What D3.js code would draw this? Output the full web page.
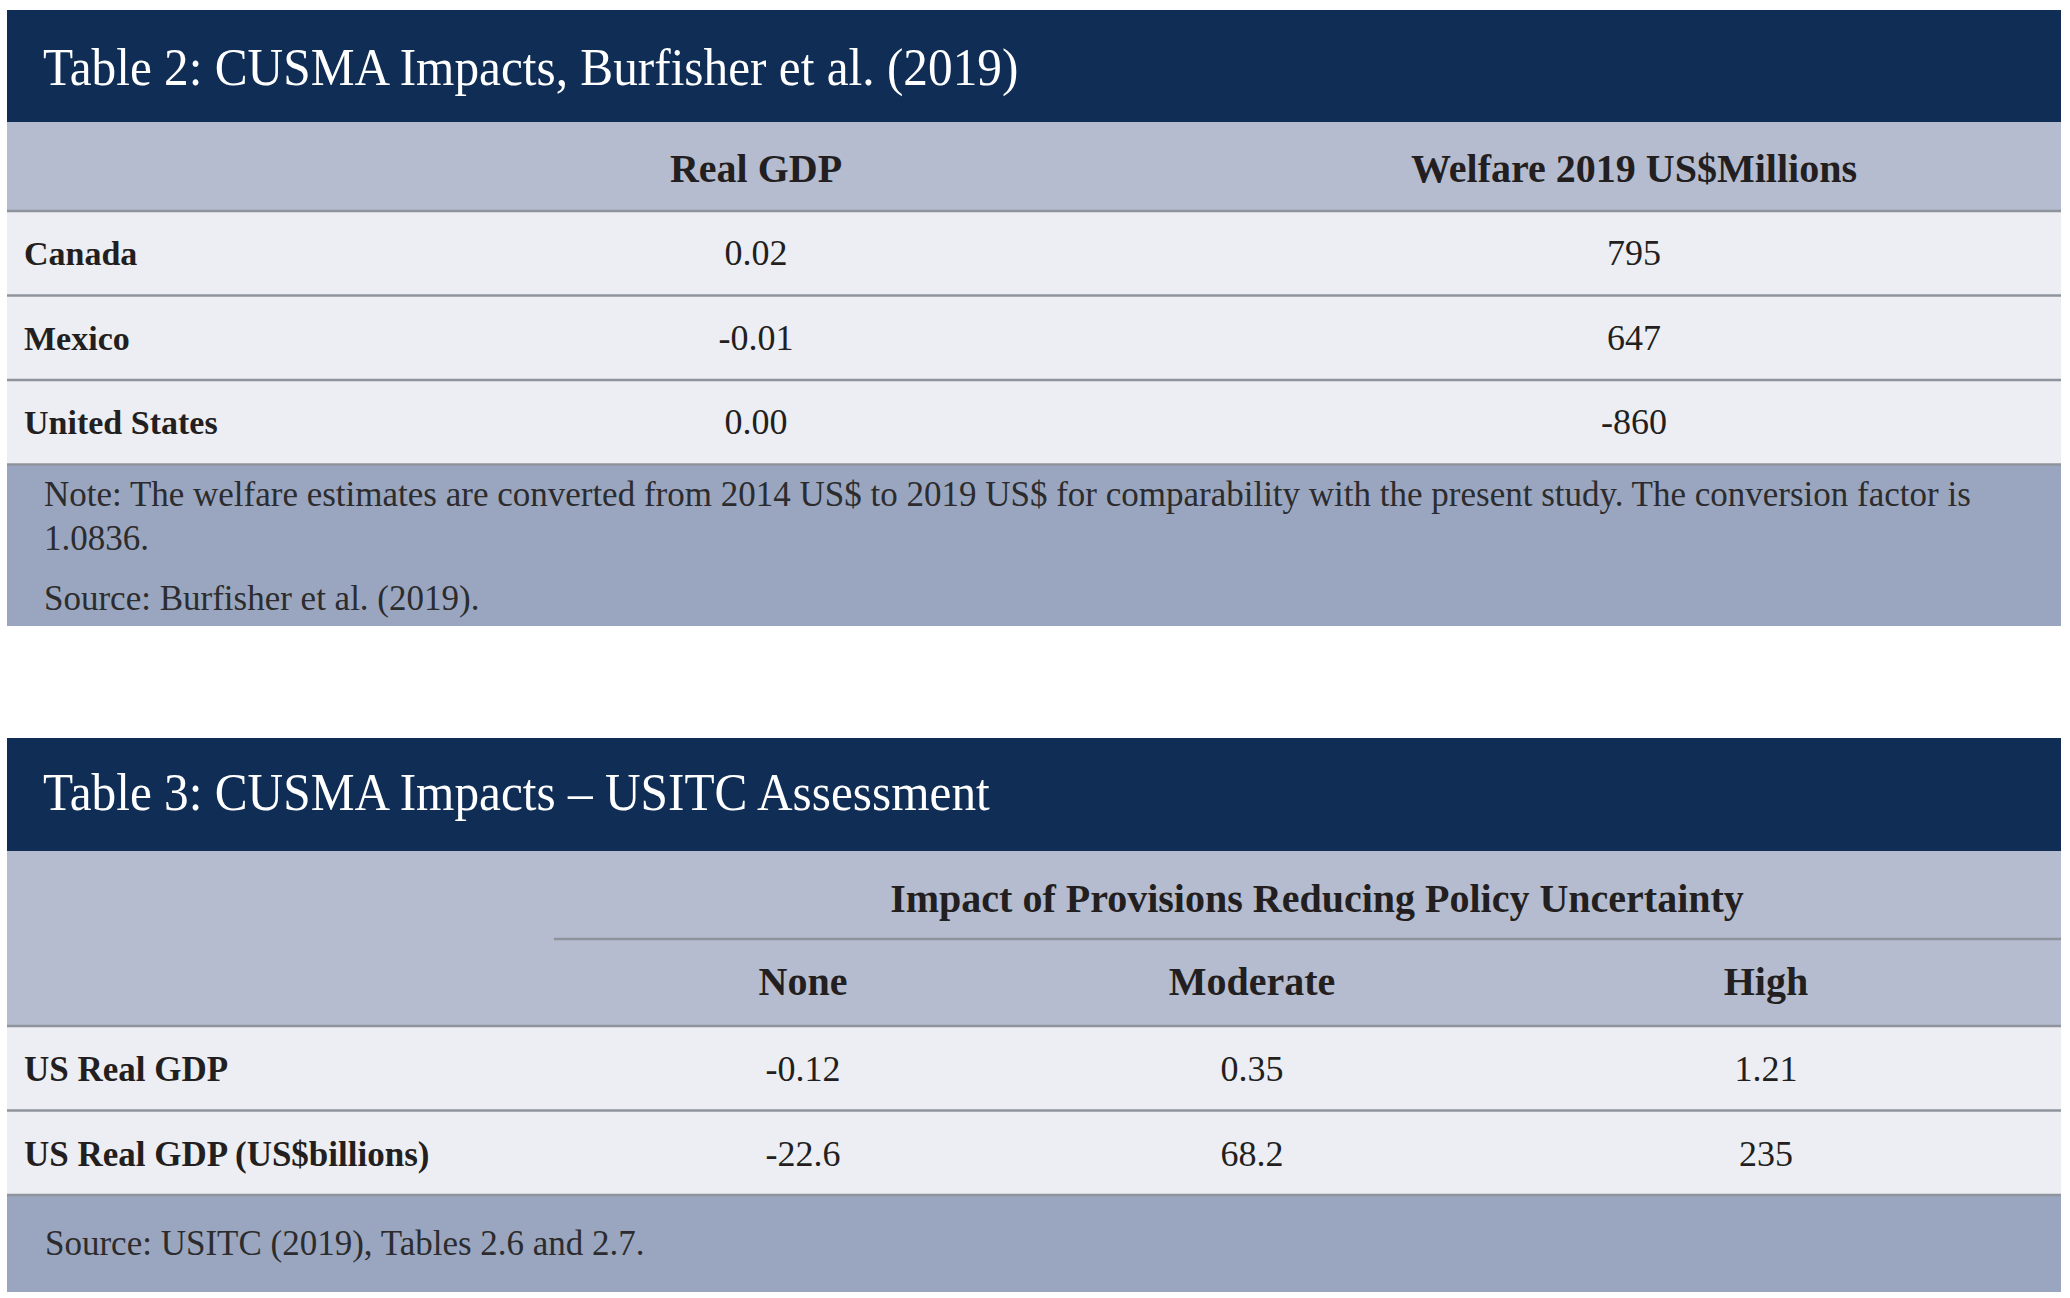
<!DOCTYPE html>
<html>
<head>
<meta charset="utf-8">
<script src="https://cdn.jsdelivr.net/npm/d3@7"></script>
<style>
  body { margin: 0; background: #fff; }
  svg text { font-family: "Liberation Serif", "Times New Roman", serif; }
</style>
</head>
<body>
<div id="chart"></div>
<script>
// ---- data: Table 2 ----
const t2Title = "Table 2: CUSMA Impacts, Burfisher et al. (2019)";
const t2Columns = ["Real GDP", "Welfare 2019 US$Millions"];
const t2Rows = ["Canada", "Mexico", "United States"];
const t2RealGdp = ["0.02", "-0.01", "0.00"];
const t2Welfare = ["795", "647", "-860"];
const t2Notes = [
  "Note: The welfare estimates are converted from 2014 US$ to 2019 US$ for comparability with the present study. The conversion factor is",
  "1.0836.",
  "Source: Burfisher et al. (2019)."
];

// ---- data: Table 3 ----
const t3Title = "Table 3: CUSMA Impacts \u2013 USITC Assessment";
const t3Span = "Impact of Provisions Reducing Policy Uncertainty";
const t3Columns = ["None", "Moderate", "High"];
const t3Rows = ["US Real GDP", "US Real GDP (US$billions)"];
const t3None = ["-0.12", "-22.6"];
const t3Moderate = ["0.35", "68.2"];
const t3High = ["1.21", "235"];
const t3Notes = ["Source: USITC (2019), Tables 2.6 and 2.7."];

const colors = {
  title: "#0f2d55",
  header: "#b5bccf",
  body: "#edeef3",
  note: "#9aa6bf",
  rule: "#8f949c",
  text: "#231f20"
};

const W = 2070, H = 1298;
const left = 7, right = 2061;

const svg = d3.select("#chart").append("svg")
  .attr("width", W)
  .attr("height", H);

// squeeze Times-ish glyphs a bit towards the narrower Garamond of the original
function condense(sel, k) {
  sel.each(function() {
    const len = this.getComputedTextLength();
    d3.select(this).attr("textLength", len * k).attr("lengthAdjust", "spacingAndGlyphs");
  });
}

function band(g, y0, y1, fill) {
  g.append("rect")
    .attr("x", left).attr("y", y0)
    .attr("width", right - left).attr("height", y1 - y0)
    .attr("fill", fill);
}

function rule(g, x0, y) {
  g.append("line")
    .attr("x1", x0).attr("x2", right)
    .attr("y1", y).attr("y2", y)
    .attr("stroke", colors.rule)
    .attr("stroke-width", 2.5);
}

function titleText(g, txt, y) {
  g.append("text")
    .attr("x", 43).attr("y", y)
    .attr("fill", "#fff")
    .style("font-size", "53px")
    .text(txt)
    .call(condense, 0.93);
}

// ================= Table 2 =================
const t2 = svg.append("g").attr("class", "table2");
const t2Top = 10, t2HeadTop = 122, t2HeadBottom = 211, t2RowH = 84.5;

const t2y = d3.scaleBand()
  .domain(t2Rows)
  .range([t2HeadBottom, t2HeadBottom + t2RowH * t2Rows.length]);

const t2x = d3.scaleOrdinal()
  .domain(t2Columns)
  .range([756, 1634]);

band(t2, t2Top, t2HeadTop, colors.title);
band(t2, t2HeadTop, t2HeadBottom, colors.header);
band(t2, t2HeadBottom, t2y.range()[1], colors.body);
const t2NoteTop = t2y.range()[1];
band(t2, t2NoteTop, 626, colors.note);

titleText(t2, t2Title, 85);

t2.selectAll(".col-head")
  .data(t2Columns)
  .join("text")
    .attr("class", "col-head")
    .attr("x", d => t2x(d))
    .attr("y", 182)
    .attr("text-anchor", "middle")
    .attr("fill", colors.text)
    .style("font-size", "40px")
    .style("font-weight", "bold")
    .text(d => d);

rule(t2, left, t2HeadBottom);
t2Rows.forEach(r => rule(t2, left, t2y(r) + t2y.bandwidth()));

const t2Data = t2Rows.map((r, i) => ({row: r, vals: [t2RealGdp[i], t2Welfare[i]]}));

const t2Row = t2.selectAll(".row")
  .data(t2Data)
  .join("g")
    .attr("class", "row")
    .attr("transform", d => `translate(0,${t2y(d.row) + 54})`);

t2Row.append("text")
    .attr("x", 24)
    .attr("fill", colors.text)
    .style("font-size", "34px")
    .style("font-weight", "bold")
    .text(d => d.row);

t2Row.selectAll(".val")
  .data(d => d.vals.map((v, j) => ({col: t2Columns[j], v})))
  .join("text")
    .attr("class", "val")
    .attr("x", d => t2x(d.col))
    .attr("text-anchor", "middle")
    .attr("fill", colors.text)
    .style("font-size", "36px")
    .text(d => d.v);

t2.selectAll(".note")
  .data(t2Notes)
  .join("text")
    .attr("class", "note")
    .attr("x", 44)
    .attr("y", (d, i) => [506, 550, 610][i])
    .attr("fill", "#2c2c2e")
    .style("font-size", "35px")
    .text(d => d);

// ================= Table 3 =================
const t3 = svg.append("g").attr("class", "table3");
const t3Top = 738, t3HeadTop = 851, t3SpanLine = 939, t3HeadBottom = 1026, t3RowH = 84.5;

const t3y = d3.scaleBand()
  .domain(t3Rows)
  .range([t3HeadBottom, t3HeadBottom + t3RowH * t3Rows.length]);

const t3x = d3.scaleOrdinal()
  .domain(t3Columns)
  .range([803, 1252, 1766]);

band(t3, t3Top, t3HeadTop, colors.title);
band(t3, t3HeadTop, t3HeadBottom, colors.header);
band(t3, t3HeadBottom, t3y.range()[1], colors.body);
band(t3, t3y.range()[1], 1292, colors.note);

titleText(t3, t3Title, 810);

t3.append("text")
  .attr("x", 1317).attr("y", 912)
  .attr("text-anchor", "middle")
  .attr("fill", colors.text)
  .style("font-size", "40px")
  .style("font-weight", "bold")
  .text(t3Span);

rule(t3, 554, t3SpanLine);

t3.selectAll(".col-head")
  .data(t3Columns)
  .join("text")
    .attr("class", "col-head")
    .attr("x", d => t3x(d))
    .attr("y", 995)
    .attr("text-anchor", "middle")
    .attr("fill", colors.text)
    .style("font-size", "40px")
    .style("font-weight", "bold")
    .text(d => d);

rule(t3, left, t3HeadBottom);
t3Rows.forEach(r => rule(t3, left, t3y(r) + t3y.bandwidth()));

const t3Data = t3Rows.map((r, i) => ({row: r, vals: [t3None[i], t3Moderate[i], t3High[i]]}));

const t3Row = t3.selectAll(".row")
  .data(t3Data)
  .join("g")
    .attr("class", "row")
    .attr("transform", d => `translate(0,${t3y(d.row) + 55})`);

t3Row.append("text")
    .attr("x", 24)
    .attr("fill", colors.text)
    .style("font-size", "35px")
    .style("font-weight", "bold")
    .text(d => d.row);

t3Row.selectAll(".val")
  .data(d => d.vals.map((v, j) => ({col: t3Columns[j], v})))
  .join("text")
    .attr("class", "val")
    .attr("x", d => t3x(d.col))
    .attr("text-anchor", "middle")
    .attr("fill", colors.text)
    .style("font-size", "36px")
    .text(d => d.v);

t3.selectAll(".note")
  .data(t3Notes)
  .join("text")
    .attr("class", "note")
    .attr("x", 45)
    .attr("y", 1255)
    .attr("fill", "#2c2c2e")
    .style("font-size", "35px")
    .text(d => d);
</script>
</body>
</html>
